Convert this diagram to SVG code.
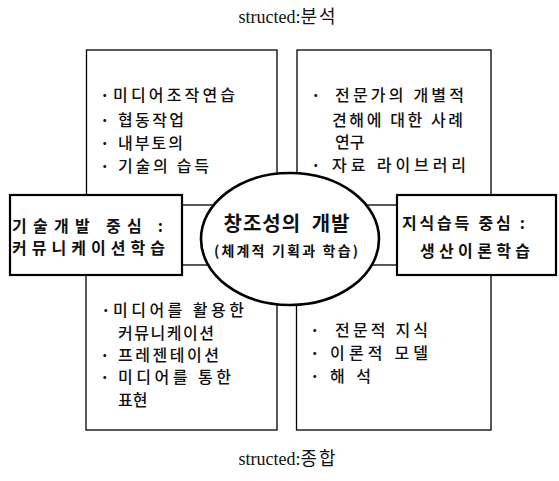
<svg xmlns="http://www.w3.org/2000/svg" width="559" height="481" viewBox="0 0 559 481">
<style>
.quad{fill:none;stroke:#000;stroke-width:1.3}
.node{fill:#fff;stroke:#000;stroke-width:2.2}
.ell{fill:#fff;stroke:#000;stroke-width:2.6}
.t{font-family:"Noto Sans CJK KR","Noto Sans",sans-serif;font-size:16px;font-weight:500;fill:#111}
.bu{font-weight:bold}
.b{font-weight:bold;font-size:16px}
.title{font-family:"Liberation Serif","Noto Sans CJK KR",serif;font-size:18px;fill:#111;text-anchor:middle}
</style>
<rect width="559" height="481" fill="#fff"/>
<text class="title" x="288" y="23">structed:<tspan letter-spacing="2">분석</tspan></text>
<text class="title" x="288" y="465">structed:<tspan letter-spacing="2">종합</tspan></text>

<g id="quadrant-top-left">
<rect class="quad" x="86.5" y="50" width="190.5" height="155"/>
<text class="t"><tspan class="bu" x="100" y="101">·</tspan><tspan x="113" y="101" textLength="122" lengthAdjust="spacing">미디어조작연습</tspan></text>
<text class="t"><tspan class="bu" x="100" y="126">·</tspan><tspan x="118" y="126" textLength="66" lengthAdjust="spacing">협동작업</tspan></text>
<text class="t"><tspan class="bu" x="100" y="149">·</tspan><tspan x="118" y="149" textLength="65" lengthAdjust="spacing">내부토의</tspan></text>
<text class="t"><tspan class="bu" x="100" y="172">·</tspan><tspan x="118" y="172" textLength="91" lengthAdjust="spacing">기술의 습득</tspan></text>
</g>

<g id="quadrant-top-right">
<rect class="quad" x="297" y="50" width="194" height="155"/>
<text class="t"><tspan class="bu" x="311" y="101">·</tspan><tspan x="335" y="101" textLength="129" lengthAdjust="spacing">전문가의 개별적</tspan></text>
<text class="t" x="332" y="126" textLength="131" lengthAdjust="spacing">견해에 대한 사례</text>
<text class="t" x="335" y="148">연구</text>
<text class="t"><tspan class="bu" x="311" y="171">·</tspan><tspan x="332" y="171" textLength="134" lengthAdjust="spacing">자료 라이브러리</tspan></text>
</g>

<g id="quadrant-bottom-left">
<rect class="quad" x="86" y="265" width="191" height="165"/>
<text class="t"><tspan class="bu" x="101" y="316">·</tspan><tspan x="113" y="316" textLength="131" lengthAdjust="spacing">미디어를 활용한</tspan></text>
<text class="t" x="118" y="339" textLength="96" lengthAdjust="spacing">커뮤니케이션</text>
<text class="t"><tspan class="bu" x="100" y="361">·</tspan><tspan x="118" y="361" textLength="101" lengthAdjust="spacing">프레젠테이션</tspan></text>
<text class="t"><tspan class="bu" x="100" y="383">·</tspan><tspan x="118" y="383" textLength="113" lengthAdjust="spacing">미디어를 통한</tspan></text>
<text class="t" x="118" y="406">표현</text>
</g>

<g id="quadrant-bottom-right">
<rect class="quad" x="296.5" y="265" width="194.5" height="165"/>
<text class="t"><tspan class="bu" x="310" y="336">·</tspan><tspan x="335" y="336" textLength="93" lengthAdjust="spacing">전문적 지식</tspan></text>
<text class="t"><tspan class="bu" x="310" y="359">·</tspan><tspan x="330" y="359" textLength="98" lengthAdjust="spacing">이론적 모델</tspan></text>
<text class="t"><tspan class="bu" x="310" y="382">·</tspan><tspan x="330" y="382" textLength="41" lengthAdjust="spacing">해 석</tspan></text>
</g>

<g id="connectors"></g>

<g id="node-left">
<rect class="node" x="10" y="195" width="172" height="80"/>
<text class="t b" x="12" y="232" textLength="151" lengthAdjust="spacing">기술개발 중심 :</text>
<text class="t b" x="12" y="254" textLength="153" lengthAdjust="spacing">커뮤니케이션학습</text>
</g>

<g id="node-right">
<rect class="node" x="397" y="195" width="159" height="80"/>
<text class="t b" x="402" y="229" textLength="123" lengthAdjust="spacing">지식습득 중심 :</text>
<text class="t b" x="420" y="257" textLength="110" lengthAdjust="spacing">생산이론학습</text>
</g>

<g id="node-center">
<ellipse class="ell" cx="290" cy="239" rx="89" ry="66"/>
<text class="t b" x="287" y="231" text-anchor="middle" letter-spacing="1" word-spacing="5" style="font-size:20px">창조성의 개발</text>
<text class="t b" x="214" y="256" textLength="144" lengthAdjust="spacing" style="font-size:14px">(체계적 기획과 학습)</text>
</g>
</svg>
